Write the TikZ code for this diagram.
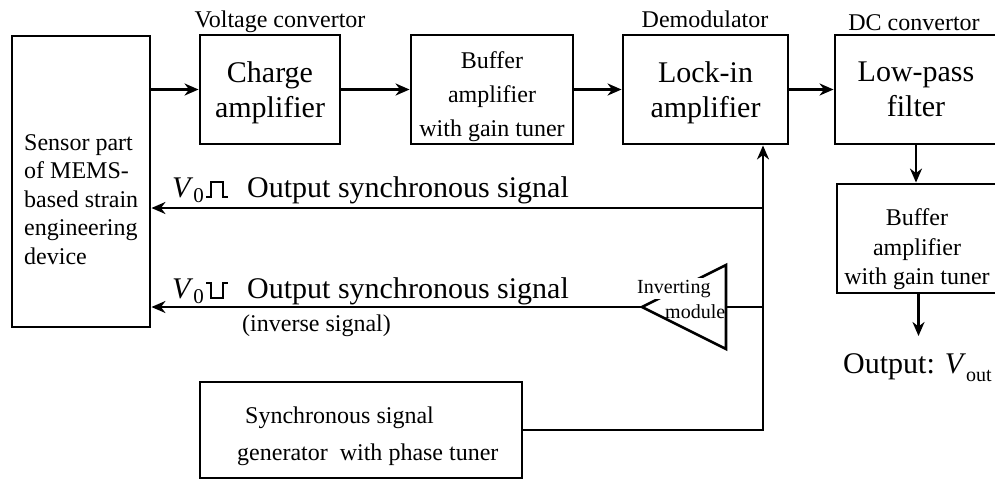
\documentclass[tikz,border=0pt]{standalone}
\usepackage{fontspec}
\setmainfont{Liberation Serif}
\usetikzlibrary{arrows.meta,calc}
\begin{document}
\begin{tikzpicture}[x=1pt,y=-1pt,
  box/.style={draw, line width=2.9pt, inner sep=0pt},
  conn/.style={line width=2.6pt},
  arr/.style={conn, -{Stealth[length=14pt, width=12pt, inset=4.5pt]}},
  smalltxt/.style={font=\fontsize{24}{34}\selectfont, inner sep=0pt, align=center},
  bigtxt/.style={font=\fontsize{30}{35}\selectfont, inner sep=0pt, align=center},
  lbl/.style={font=\fontsize{24}{28}\selectfont, inner sep=0pt, anchor=base},
  sigtxt/.style={font=\fontsize{30}{35}\selectfont, inner sep=0pt, anchor=base west},
  pulse/.style={line width=2.2pt},
]
\useasboundingbox (0,0) rectangle (995,480);
\begin{scope}
\clip (0,0) rectangle (995,480);

% boxes
\node[box, minimum width=138pt, minimum height=291pt] (sensor) at (81,181.5) {};
\node[box, minimum width=140pt, minimum height=109pt] (charge) at (270,89.5) {};
\node[box, minimum width=162pt, minimum height=109pt] (buf1) at (492,89.5) {};
\node[box, minimum width=165pt, minimum height=109pt] (lockin) at (705.5,89.5) {};
\node[box, minimum width=165pt, minimum height=109pt] (lowpass) at (917.5,89.5) {};
\node[box, minimum width=163pt, minimum height=109pt] (buf2) at (918.5,238.5) {};
\node[box, minimum width=322pt, minimum height=96pt] (gen) at (361,430) {};

% box texts
\node[font=\fontsize{24}{28.5}\selectfont, inner sep=0pt, align=left, anchor=north west] (sensortxt) at (24,134)
  {Sensor part\\of MEMS-\\based strain\\engineering\\device};
\node[bigtxt, anchor=north] (chargetxt) at (270,61.5) {Charge\\amplifier};
\node[smalltxt, anchor=north] (buf1txt) at (492,51) {Buffer\\amplifier\\with gain tuner};
\node[bigtxt, anchor=north] (lockintxt) at (705.5,61.5) {Lock-in\\amplifier};
\node[bigtxt, anchor=north] (lowpasstxt) at (916,61.5) {Low-pass\\filter};
\node[font=\fontsize{24}{29.5}\selectfont, inner sep=0pt, align=center, anchor=north] (buf2txt) at (917,208.5) {Buffer\\amplifier\\with gain tuner};
\node[font=\fontsize{24}{37}\selectfont, inner sep=0pt, align=left, anchor=north west] (gentxt) at (237,406.5)
  {\hspace*{8pt}Synchronous signal\\generator\ \ with phase tuner};

% labels above boxes
\node[lbl] (vconv) at (280,27) {Voltage convertor};
\node[lbl] (demod) at (705,27) {Demodulator};
\node[lbl] (dcconv) at (914,30) {DC convertor};

% forward chain
\draw[arr] (sensor.east |- charge.west) -- (charge.west);
\draw[arr] (charge.east) -- (buf1.west);
\draw[arr] (buf1.east) -- (lockin.west);
\draw[arr] (lockin.east) -- (lowpass.west);
\draw[arr] (916,144) coordinate (lpS) -- (lpS |- buf2.north);
\coordinate (outp) at (918.5,336);
\draw[arr] (buf2.south) -- (outp);
\node[font=\fontsize{30}{35}\selectfont, inner sep=0pt, anchor=base west] (outlbl) at (843,373)
  {Output: \textit{V}\raisebox{-8pt}{\fontsize{20}{20}\selectfont out}};

% reference bus
\coordinate (bus) at (763,430);
\draw[arr] (gen.east) -| (bus |- lockin.south);

% synchronous signal
\coordinate (j1) at (763,208);
\draw[arr] (j1) -- (j1 -| sensor.east);
\node[sigtxt] (v0a) at (172,197) {\textit{V}\raisebox{-5pt}{\fontsize{21}{21}\selectfont 0}};
\draw[pulse] (206,197) -- (211,197) -- (211,182) -- (223,182) -- (223,197) -- (228,197);
\node[sigtxt] (sig1) at (247,197) {Output synchronous signal};

% inverting module
\coordinate (invtip) at (642,307);
\coordinate (invtr) at (726,265);
\coordinate (invbr) at (726,349);
\coordinate (invR) at (726,307);
\coordinate (j2) at (763,307);
\draw[conn, line join=miter] (invtip) -- (invtr) -- (invbr) -- cycle;
\node[font=\fontsize{20}{20}\selectfont, fill=white, inner sep=1.5pt, anchor=base west] (invlbl) at (635.5,293) {Inverting};
\node[font=\fontsize{20}{20}\selectfont, inner sep=0pt, anchor=base west] (modlbl) at (665,318) {module};
\draw[conn] (j2) -- (invR);
\draw[arr] (invtip) -- (invtip -| sensor.east);
\node[sigtxt] (v0b) at (172,298) {\textit{V}\raisebox{-5pt}{\fontsize{21}{21}\selectfont 0}};
\draw[pulse] (206,283) -- (211,283) -- (211,298) -- (223,298) -- (223,283) -- (228,283);
\node[sigtxt] (sig2) at (247,298) {Output synchronous signal};
\node[font=\fontsize{24}{28}\selectfont, inner sep=0pt, anchor=base west] (invsig) at (242,331) {(inverse signal)};

\end{scope}
\end{tikzpicture}
\end{document}
